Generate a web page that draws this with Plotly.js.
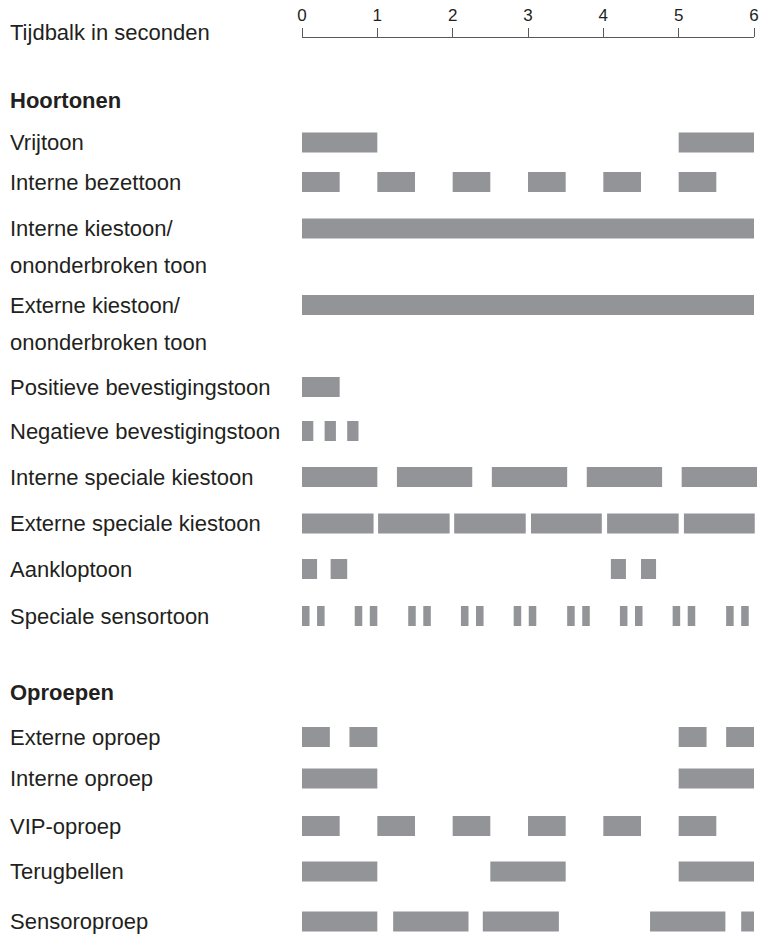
<!DOCTYPE html>
<html>
<head>
<meta charset="utf-8">
<script src="https://cdn.plot.ly/plotly-3.0.1.min.js"></script>
<style>html,body{margin:0;padding:0;background:#fff;}#chart{width:764px;height:937px;}</style>
</head>
<body>
<div id="chart"></div>
<script>
// ---- Data: on-intervals [start, end] in seconds ----
const timeTicks = [0, 1, 2, 3, 4, 5, 6];
const timeTickLabels = ["0", "1", "2", "3", "4", "5", "6"];

const vrijtoon = [[0, 1], [5, 6]];
const interneBezettoon = [[0, 0.5], [1, 1.5], [2, 2.5], [3, 3.5], [4, 4.5], [5, 5.5]];
const interneKiestoon = [[0, 6]];
const externeKiestoon = [[0, 6]];
const positieveBevestigingstoon = [[0, 0.5]];
const negatieveBevestigingstoon = [[0, 0.15], [0.3, 0.45], [0.6, 0.75]];
const interneSpecialeKiestoon = [[0, 1], [1.26, 2.26], [2.52, 3.52], [3.78, 4.78], [5.04, 6.04]];
const externeSpecialeKiestoon = [[0, 0.95], [1.01, 1.96], [2.02, 2.97], [3.04, 3.98], [4.05, 5.0], [5.07, 6.01]];
const aankloptoon = [[0, 0.2], [0.38, 0.6], [4.1, 4.3], [4.5, 4.7]];
const specialeSensortoon = [[0, 0.1], [0.2, 0.3], [0.7, 0.8], [0.9, 1.0], [1.41, 1.51], [1.61, 1.71],
  [2.11, 2.21], [2.31, 2.41], [2.81, 2.91], [3.01, 3.11], [3.52, 3.62], [3.72, 3.82],
  [4.22, 4.32], [4.42, 4.52], [4.92, 5.02], [5.12, 5.22], [5.63, 5.73], [5.83, 5.93]];
const externeOproep = [[0, 0.37], [0.63, 1.0], [5, 5.37], [5.63, 6]];
const interneOproep = [[0, 1], [5, 6]];
const vipOproep = [[0, 0.5], [1, 1.5], [2, 2.5], [3, 3.5], [4, 4.5], [5, 5.5]];
const terugbellen = [[0, 1], [2.5, 3.5], [5, 6]];
const sensoroproep = [[0, 1], [1.21, 2.21], [2.4, 3.41], [4.62, 5.62], [5.83, 6]];

const rowLabels = [
  ["Vrijtoon"],
  ["Interne bezettoon"],
  ["Interne kiestoon/", "ononderbroken toon"],
  ["Externe kiestoon/", "ononderbroken toon"],
  ["Positieve bevestigingstoon"],
  ["Negatieve bevestigingstoon"],
  ["Interne speciale kiestoon"],
  ["Externe speciale kiestoon"],
  ["Aankloptoon"],
  ["Speciale sensortoon"],
  ["Externe oproep"],
  ["Interne oproep"],
  ["VIP-oproep"],
  ["Terugbellen"],
  ["Sensoroproep"]
];
const rowSeries = [vrijtoon, interneBezettoon, interneKiestoon, externeKiestoon,
  positieveBevestigingstoon, negatieveBevestigingstoon, interneSpecialeKiestoon,
  externeSpecialeKiestoon, aankloptoon, specialeSensortoon, externeOproep,
  interneOproep, vipOproep, terugbellen, sensoroproep];
const sectionTitles = ["Hoortonen", "Oproepen"];
const axisTitle = "Tijdbalk in seconden";

// ---- Layout (pixel positions, y axis is in pixel units) ----
const W = 764, H = 937;
const x0px = 302, x6px = 754;
const pxPerSec = (x6px - x0px) / 6;
const rowY = [142.5, 182, 228.5, 305, 387, 431, 477, 523.5, 569, 616, 737, 778.5, 826, 871.5, 921.5];
const secondLineGap = 37;
const sectionY = [100, 692];
const axisTitleY = 32;
const axisLineY = 37;
const barThickness = 20;
const labelX = 8;
const barColor = "#939498";
const textColor = "#231f20";
const lineColor = "#58595b";
const FONT = "Liberation Sans, Arial, Helvetica, sans-serif";

const traces = [];
// invisible trace to make the timeline axis render
traces.push({
  type: "scatter", mode: "markers",
  x: [timeTicks[0], timeTicks[timeTicks.length - 1]], y: [-50, -50],
  marker: { opacity: 0 }, hoverinfo: "skip",
  xaxis: "x2", yaxis: "y"
});
rowSeries.forEach((segs, i) => traces.push({
  type: "bar",
  orientation: "h",
  base: segs.map(s => s[0]),
  x: segs.map(s => s[1] - s[0]),
  y: segs.map(() => rowY[i]),
  width: barThickness,
  marker: { color: barColor, line: { width: 0 } },
  hoverinfo: "skip",
  xaxis: "x",
  yaxis: "y"
}));

const annotations = [];
const labelFont = { family: FONT, size: 22, color: textColor };
rowLabels.forEach((lines, i) => {
  lines.forEach((t, j) => {
    annotations.push({
      xref: "paper", yref: "y", x: labelX / W, y: rowY[i] + j * secondLineGap,
      xanchor: "left", yanchor: "middle", text: t, showarrow: false, font: labelFont
    });
  });
});
sectionTitles.forEach((t, i) => {
  annotations.push({
    xref: "paper", yref: "y", x: labelX / W, y: sectionY[i],
    xanchor: "left", yanchor: "middle", text: "<b>" + t + "</b>", showarrow: false, font: labelFont
  });
});
annotations.push({
  xref: "paper", yref: "y", x: labelX / W, y: axisTitleY,
  xanchor: "left", yanchor: "middle", text: axisTitle, showarrow: false, font: labelFont
});

const layout = {
  width: W, height: H,
  margin: { l: 0, r: 0, t: 0, b: 0, pad: 0 },
  paper_bgcolor: "#ffffff", plot_bgcolor: "rgba(0,0,0,0)",
  showlegend: false,
  barmode: "overlay",
  font: { family: FONT, color: textColor },
  xaxis: {
    domain: [0, 1],
    range: [-x0px / pxPerSec, (W - x0px) / pxPerSec],
    visible: false, fixedrange: true
  },
  xaxis2: {
    domain: [x0px / W, x6px / W],
    range: [0, 6],
    anchor: "free", position: 1 - axisLineY / H,
    side: "top",
    tickvals: timeTicks, ticktext: timeTickLabels,
    ticks: "outside", ticklen: 9, tickwidth: 1, tickcolor: lineColor,
    showline: true, linecolor: lineColor, linewidth: 1,
    showgrid: false, zeroline: false,
    tickfont: { family: FONT, size: 17, color: textColor },
    fixedrange: true
  },
  yaxis: {
    domain: [0, 1],
    range: [H, 0],
    visible: false, fixedrange: true
  },
  annotations: annotations
};

Plotly.newPlot("chart", traces, layout, { staticPlot: true, displayModeBar: false });
</script>
</body>
</html>
